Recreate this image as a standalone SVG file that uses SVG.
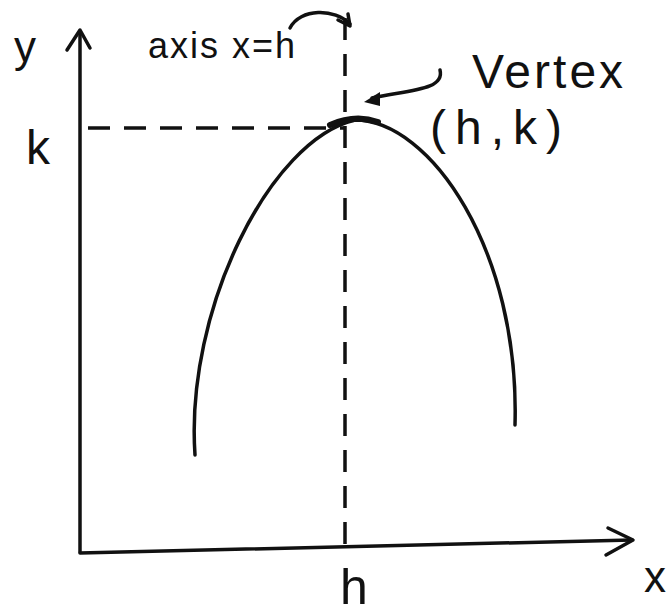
<svg xmlns="http://www.w3.org/2000/svg" width="670" height="615" viewBox="0 0 670 615">
<style>
.ln{fill:none;stroke:#111;stroke-width:3.5;stroke-linecap:round;stroke-linejoin:round}
.ds{fill:none;stroke:#111;stroke-width:3.5;stroke-dasharray:22 14}
.t{font-family:"Liberation Sans",Arial,sans-serif;fill:#111}
</style>
<rect width="670" height="615" fill="#fff"/>
<g id="connectors">
<path class="ln" d="M80,552 L80,32"/>
<path class="ln" d="M67,50 L80,30 L90,48"/>
<path class="ln" d="M80,553 L632,540"/>
<path class="ln" d="M608,528 L633,540 L606,555"/>
<path class="ds" d="M345,18 L345,552"/>
<path class="ds" d="M88,128 L345,128"/>
<path class="ln" d="M290,28 C300,8 335,8 350,24"/>
<path class="ln" d="M338,20 L350,26 L348,14"/>
<path class="ln" d="M440,70 C445,90 410,90 372,98"/>
<path d="M364,102 L380,92 L380,106 Z" fill="#111"/>
</g>
<g id="parabola">
<path class="ln" d="M195,455 C185,310 270,140 355,120 C430,120 520,250 515,425"/>
<path class="ln" d="M330,125 Q355,114 378,122" style="stroke-width:6"/>
</g>
<g id="labels">
<text class="t" x="14" y="62" font-size="44">y</text>
<text class="t" x="148" y="58" font-size="36" letter-spacing="2">axis x=h</text>
<text class="t" x="26" y="164" font-size="48">k</text>
<text class="t" x="472" y="88" font-size="48" letter-spacing="3">Vertex</text>
<text class="t" x="430" y="144" font-size="48" letter-spacing="9">(h,k)</text>
<text class="t" x="340" y="604" font-size="50">h</text>
<text class="t" x="644" y="592" font-size="44">x</text>
</g>
</svg>
